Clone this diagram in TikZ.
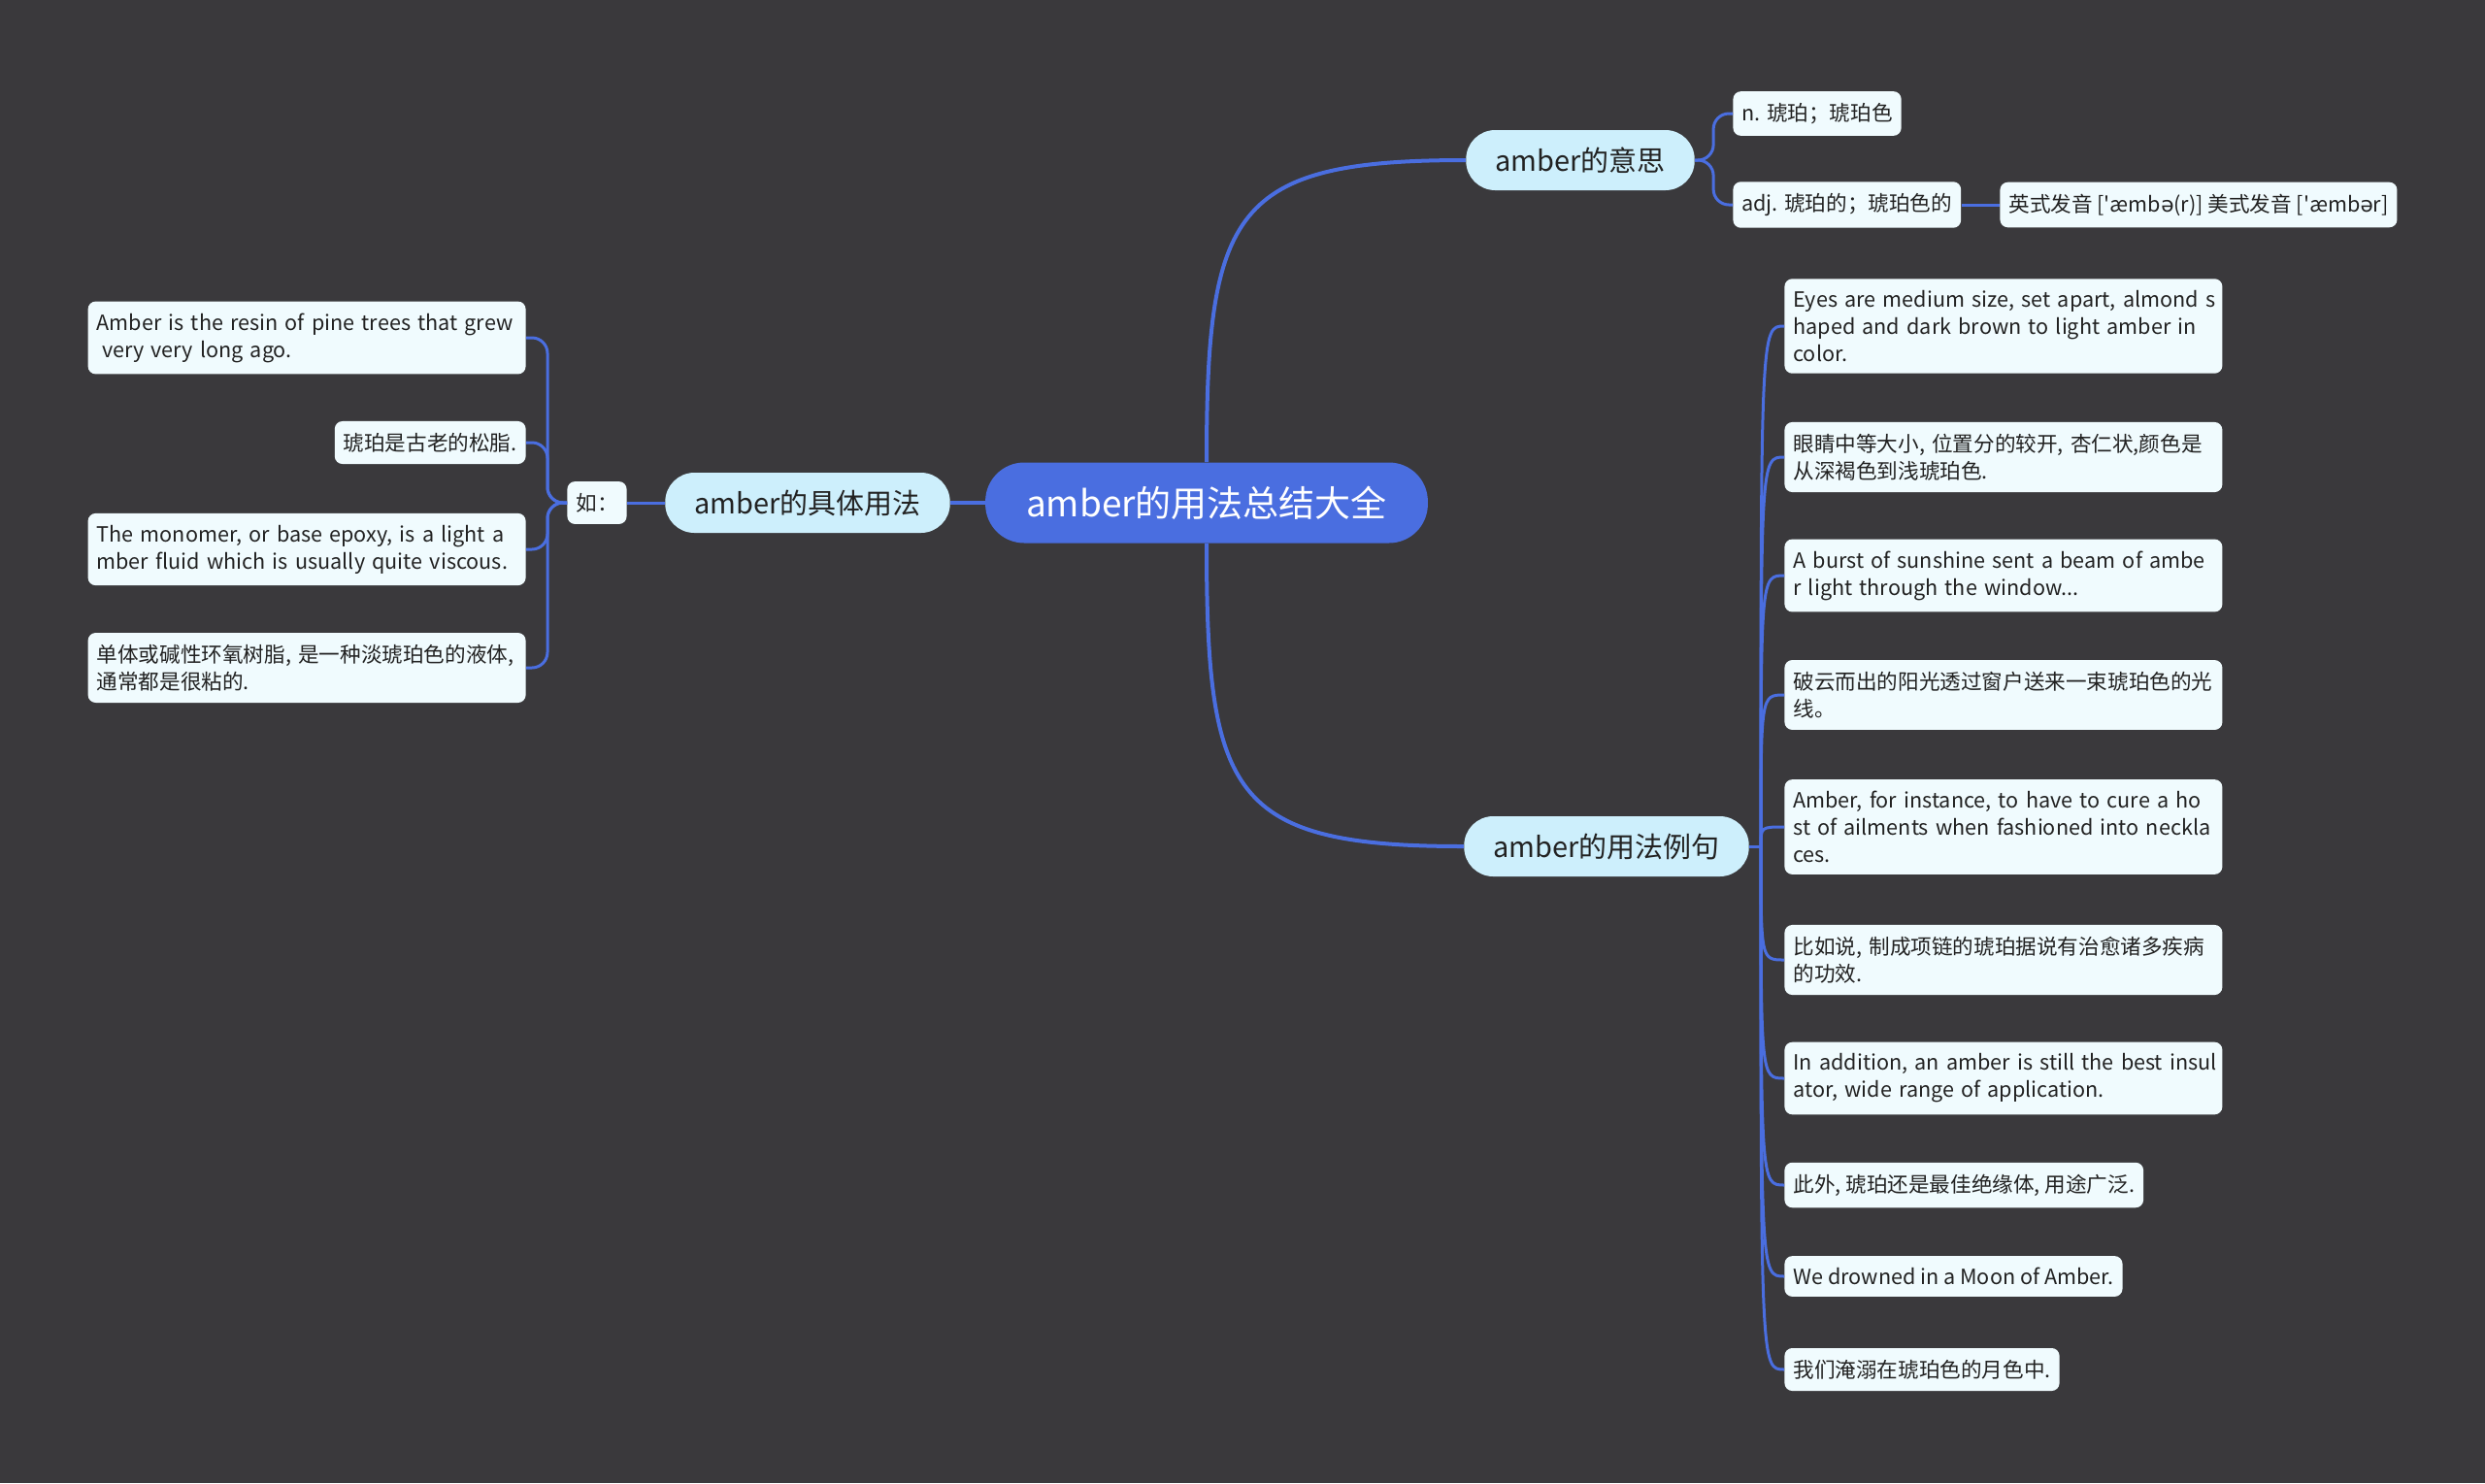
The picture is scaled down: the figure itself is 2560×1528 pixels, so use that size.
\documentclass[tikz,border=0pt]{standalone}
\usepackage{fontspec}
\setmainfont{Noto Sans CJK SC}
\newfontfamily\ipafont{DejaVu Sans}
\definecolor{bgc}{HTML}{3A393C}
\definecolor{linkc}{HTML}{4A6EE0}
\definecolor{rootc}{HTML}{4A6EE0}
\definecolor{topicc}{HTML}{CDEFFC}
\definecolor{leafc}{HTML}{F0FBFE}
\definecolor{inkc}{HTML}{222222}
\newcommand{\oneline}[1]{\mbox{#1}}
\tikzset{
  link/.style={draw=linkc,line width=1.5pt},
  trunk/.style={draw=linkc,line width=2pt},
  rootbox/.style={fill=rootc,text=white,rounded corners=20pt,inner xsep=21pt,minimum height=41.5pt,font=\fontsize{18.5}{22}\selectfont},
  topic/.style={fill=topicc,text=inkc,rounded corners=15pt,inner xsep=15pt,minimum height=31pt,font=\fontsize{14.5}{18}\selectfont},
  leaf/.style={fill=leafc,text=inkc,rounded corners=4pt,inner xsep=4.5pt,inner ysep=6pt,font=\fontsize{10.8}{14}\selectfont,align=left},
  wide/.style={text width=216.5pt}
}
\begin{document}
\begin{tikzpicture}[x=0.5pt,y=-0.5pt]
  \fill[bgc] (0,0) rectangle (2560,1528);
  \useasboundingbox (0,0) rectangle (2560,1528);

  % centre and main branches
  \node[rootbox] (root) at (1243,518) {amber的用法总结大全};
  \node[topic] (mean) at (1628,165) {amber的意思};
  \node[topic] (usage) at (832,518) {amber的具体用法};
  \node[topic] (sample) at (1655,872) {amber的用法例句};

  % meaning
  \node[leaf,anchor=west] (noun) at (1785,117) {n. 琥珀；琥珀色};
  \node[leaf,anchor=west] (adj) at (1785,211) {adj. 琥珀的；琥珀色的};
  \node[leaf,anchor=west] (ipa) at (2060,211) {英式发音 [\textquotesingle æmb{\ipafont ə}(r)] 美式发音 [\textquotesingle æmb{\ipafont ə}r]};

  % usage
  \node[leaf] (ru) at (615,518) {如：};
  \node[leaf,wide,anchor=east] (l1) at (542,348) {\oneline{Amber is the resin of pine trees that grew}\\\oneline{\hspace*{.25em}very very long ago.}};
  \node[leaf,anchor=east] (l2) at (542,456) {琥珀是古老的松脂.};
  \node[leaf,wide,anchor=east] (l3) at (542,566) {\oneline{The monomer, or base epoxy, is a light a}\\\oneline{mber fluid which is usually quite viscous.}};
  \node[leaf,wide,anchor=east] (l4) at (542,688) {\oneline{单体或碱性环氧树脂, 是一种淡琥珀色的液体,}\\\oneline{通常都是很粘的.}};

  % examples
  \node[leaf,wide,anchor=west] (e1) at (1838,336) {\oneline{Eyes are medium size, set apart, almond s}\\\oneline{haped and dark brown to light amber in}\\\oneline{color.}};
  \node[leaf,wide,anchor=west] (e2) at (1838,471) {\oneline{眼睛中等大小, 位置分的较开, 杏仁状,颜色是}\\\oneline{从深褐色到浅琥珀色.}};
  \node[leaf,wide,anchor=west] (e3) at (1838,593) {\oneline{A burst of sunshine sent a beam of ambe}\\\oneline{r light through the window...}};
  \node[leaf,wide,anchor=west] (e4) at (1838,716) {\oneline{破云而出的阳光透过窗户送来一束琥珀色的光}\\\oneline{线。}};
  \node[leaf,wide,anchor=west] (e5) at (1838,852) {\oneline{Amber, for instance, to have to cure a ho}\\\oneline{st of ailments when fashioned into neckla}\\\oneline{ces.}};
  \node[leaf,wide,anchor=west] (e6) at (1838,989) {\oneline{比如说, 制成项链的琥珀据说有治愈诸多疾病}\\\oneline{的功效.}};
  \node[leaf,wide,anchor=west] (e7) at (1838,1111) {\oneline{In addition, an amber is still the best insul}\\\oneline{ator, wide range of application.}};
  \node[leaf,anchor=west] (e8) at (1838,1221) {此外, 琥珀还是最佳绝缘体, 用途广泛.};
  \node[leaf,anchor=west] (e9) at (1838,1315) {We drowned in a Moon of Amber.};
  \node[leaf,anchor=west] (e10) at (1838,1411) {我们淹溺在琥珀色的月色中.};

  % connectors
  \draw[trunk] (root.north) .. controls +(0,-260) and +(-240,0) .. (mean.west);
  \draw[trunk] (root.south) .. controls +(0,260) and +(-240,0) .. (sample.west);
  \draw[trunk] (root.west) -- (usage.east);
  \draw[link] (usage.west) -- (ru.east);
  \foreach \i in {1,...,4}
    \draw[link,rounded corners=8pt] (ru.west) -- ++(-20,0) |- (l\i.east);
  \draw[link,rounded corners=8pt] (mean.east) -- ++(19,0) |- (noun.west);
  \draw[link,rounded corners=8pt] (mean.east) -- ++(19,0) |- (adj.west);
  \draw[link] (adj.east) -- (ipa.west);
  \coordinate (hub) at (1814,872);
  \draw[link] (sample.east) -- (hub);
  \foreach \i in {1,...,10}
    \draw[link] (hub) .. controls (hub |- e\i.west) .. (e\i.west);
\end{tikzpicture}
\end{document}
